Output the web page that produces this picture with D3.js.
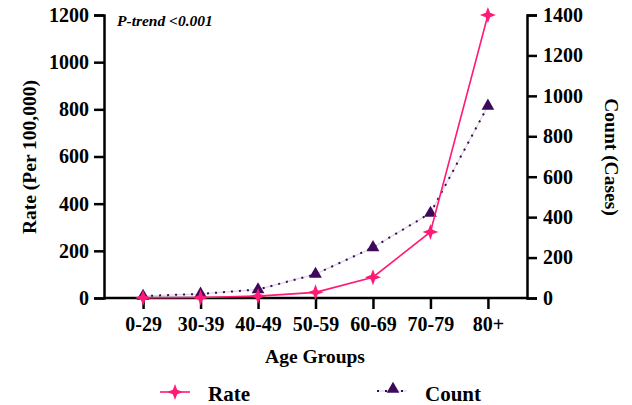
<!DOCTYPE html>
<html>
<head>
<meta charset="utf-8">
<script src="https://cdn.jsdelivr.net/npm/d3@7"></script>
<style>
  body { margin: 0; background: #fff; }
  text { font-family: "Liberation Serif", "Times New Roman", serif; font-weight: bold; }
</style>
</head>
<body>
<svg id="canvas"></svg>
<script>
var ageGroups = ["0-29", "30-39", "40-49", "50-59", "60-69", "70-79", "80+"];
var rateValues = [1, 2, 8, 24, 88, 280, 1200];
var countValues = [10, 20, 42, 118, 250, 420, 950];
var rateTicks = [0, 200, 400, 600, 800, 1000, 1200];
var countTicks = [0, 200, 400, 600, 800, 1000, 1200, 1400];

var w = 632, h = 405;
var pink = "#ff1a75", purple = "#3c0a5a";

var svg = d3.select("#canvas").attr("width", w).attr("height", h);

// ########## Scales ##########
var x = d3.scalePoint().domain(ageGroups).range([104, 527]).padding(0.68);
var yRate = d3.scaleLinear().domain([0, 1200]).range([298, 15]);
var yCount = d3.scaleLinear().domain([0, 1400]).range([298, 15]);

// ########## Axes ##########
function styleAxis(g) {
    g.attr("font-family", null).attr("font-size", null);
    g.select(".domain").attr("stroke", "#000").attr("stroke-width", 2.5);
    g.selectAll(".tick line").attr("stroke", "#000").attr("stroke-width", 2.5);
    g.selectAll(".tick text").attr("fill", "#000").style("font-size", "20px");
}

svg.append("g")
    .attr("transform", "translate(104,0)")
    .call(d3.axisLeft(yRate).tickValues(rateTicks).tickFormat(d3.format("d"))
        .tickSizeOuter(0).tickSize(10).tickPadding(5))
    .call(styleAxis);

svg.append("g")
    .attr("transform", "translate(527,0)")
    .call(d3.axisRight(yCount).tickValues(countTicks).tickFormat(d3.format("d"))
        .tickSizeOuter(0).tickSize(10).tickPadding(6))
    .call(styleAxis);

svg.append("g")
    .attr("transform", "translate(0,298)")
    .call(d3.axisBottom(x).tickSizeOuter(0).tickSize(11).tickPadding(8))
    .call(styleAxis)
    .call(function (g) { g.select(".domain").attr("d", "M104,0H527"); });

// ########## Titles ##########
svg.append("text")
    .attr("transform", "translate(36,157) rotate(-90)")
    .attr("text-anchor", "middle")
    .style("font-size", "19.5px")
    .text("Rate (Per 100,000)");

svg.append("text")
    .attr("transform", "translate(605,157) rotate(90)")
    .attr("text-anchor", "middle")
    .style("font-size", "19.5px")
    .text("Count (Cases)");

svg.append("text")
    .attr("x", 315).attr("y", 363)
    .attr("text-anchor", "middle")
    .style("font-size", "19.5px")
    .text("Age Groups");

svg.append("text")
    .attr("x", 117).attr("y", 26)
    .style("font-size", "15.5px")
    .style("font-style", "italic")
    .text("P-trend <0.001");

// ########## Markers ##########
function starPath(r) {
    var i = r * 0.38, p = [];
    for (var k = 0; k < 4; k++) {
        var a = k * Math.PI / 2;
        p.push([r * Math.sin(a), -r * Math.cos(a)]);
        var b = a + Math.PI / 4;
        p.push([i * Math.sin(b), -i * Math.cos(b)]);
    }
    return "M" + p.map(function (d) { return d.join(","); }).join("L") + "Z";
}
var triangle = d3.symbol().type(d3.symbolTriangle).size(70)();

// ########## Lines ##########
var countLine = d3.line()
    .x(function (d, i) { return x(ageGroups[i]); })
    .y(function (d) { return yCount(d); });
var rateLine = d3.line()
    .x(function (d, i) { return x(ageGroups[i]); })
    .y(function (d) { return yRate(d); });

svg.append("path").datum(countValues)
    .attr("d", countLine).attr("fill", "none")
    .attr("stroke", "#ddd5e4").attr("stroke-width", 1.2);
svg.append("path").datum(countValues)
    .attr("d", countLine).attr("fill", "none")
    .attr("stroke", purple).attr("stroke-width", 2)
    .attr("stroke-dasharray", "2,6");

svg.selectAll(".count-pt")
    .data(countValues).enter()
    .append("path")
    .attr("class", "count-pt")
    .attr("d", triangle)
    .attr("fill", purple)
    .attr("transform", function (d, i) { return "translate(" + x(ageGroups[i]) + "," + yCount(d) + ")"; });

svg.append("path").datum(rateValues)
    .attr("d", rateLine).attr("fill", "none")
    .attr("stroke", pink).attr("stroke-width", 1.6);

svg.selectAll(".rate-pt")
    .data(rateValues).enter()
    .append("path")
    .attr("class", "rate-pt")
    .attr("d", starPath(8))
    .attr("fill", pink)
    .attr("transform", function (d, i) { return "translate(" + x(ageGroups[i]) + "," + yRate(d) + ")"; });

// ########## Legend ##########
svg.append("line").attr("x1", 160).attr("x2", 190).attr("y1", 392).attr("y2", 392)
    .attr("stroke", pink).attr("stroke-width", 1.6);
svg.append("path").attr("d", starPath(8)).attr("fill", pink)
    .attr("transform", "translate(175,392)");
svg.append("text").attr("x", 208).attr("y", 401).style("font-size", "21px").text("Rate");

svg.append("line").attr("x1", 377).attr("x2", 407).attr("y1", 391).attr("y2", 391)
    .attr("stroke", "#ddd5e4").attr("stroke-width", 1.2);
svg.append("line").attr("x1", 377).attr("x2", 407).attr("y1", 391).attr("y2", 391)
    .attr("stroke", purple).attr("stroke-width", 2).attr("stroke-dasharray", "2,6");
svg.append("path").attr("d", triangle).attr("fill", purple)
    .attr("transform", "translate(393,389)");
svg.append("text").attr("x", 425).attr("y", 401).style("font-size", "21px").text("Count");
</script>
</body>
</html>
